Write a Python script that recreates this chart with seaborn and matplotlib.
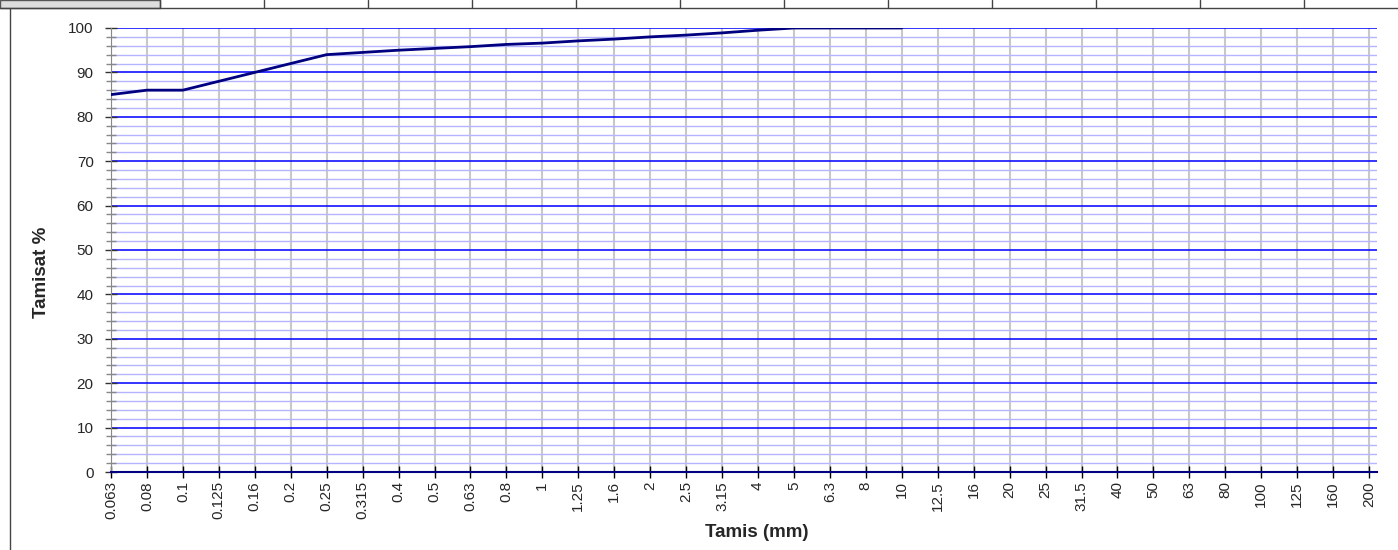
import numpy as np
import pandas as pd
import matplotlib
matplotlib.use('Agg')
import matplotlib.pyplot as plt
from matplotlib.lines import Line2D
from matplotlib.patches import Rectangle
import seaborn as sns

sieves = ['0.063', '0.08', '0.1', '0.125', '0.16', '0.2', '0.25', '0.315', '0.4', '0.5',
          '0.63', '0.8', '1', '1.25', '1.6', '2', '2.5', '3.15', '4', '5',
          '6.3', '8', '10', '12.5', '16', '20', '25', '31.5', '40', '50',
          '63', '80', '100', '125', '160', '200']
passing = [85, 86, 86, 88, 90, 92, 94, 94.5, 95, 95.4,
           95.8, 96.3, 96.6, 97.1, 97.5, 98, 98.4, 98.9, 99.5, 100,
           100, 100, 100]

sns.set_style("white")
plt.rcParams['font.family'] = ['Liberation Sans', 'DejaVu Sans']

fig = plt.figure(figsize=(13.98, 5.5), dpi=100)
ax = fig.add_axes([111 / 1398, 1 - 472 / 550, (1377 - 111) / 1398, (472 - 28) / 550])

df = pd.DataFrame({'pos': range(len(passing)), 'passing': passing})
sns.lineplot(data=df, x='pos', y='passing', color='#000080', linewidth=2, ax=ax, zorder=5)

ax.set_xlim(0, len(sieves) - 1 + 0.22)
ax.set_ylim(0, 100)
ax.set_xticks(range(len(sieves)))
ax.set_xticklabels(sieves, rotation=90, fontsize=11)
ax.set_yticks(range(0, 101, 10))
ax.set_yticks(range(0, 101, 2), minor=True)
ax.tick_params(axis='y', which='major', left=True, labelsize=11, direction='inout',
               length=9, width=1, color='#333333', pad=8)
ax.tick_params(axis='y', which='minor', left=True, direction='inout', length=7, width=1, color='#888888')
ax.tick_params(axis='x', which='major', bottom=True, direction='inout', length=9, width=1,
               color='#000000', pad=2)

ax.grid(axis='y', which='minor', color='#b4b4ff', linewidth=1)
ax.grid(axis='y', which='major', color='#1010ff', linewidth=1.2)
ax.grid(axis='x', which='major', color='#c8c8c8', linewidth=1.5)
ax.set_axisbelow(True)

for s in ['top', 'right']:
    ax.spines[s].set_visible(False)
ax.spines['left'].set_color('#888888')
ax.spines['bottom'].set_color('#000080')
ax.spines['bottom'].set_linewidth(1.5)

ax.set_xlabel('Tamis (mm)', fontsize=13.5, fontweight='bold')
ax.set_ylabel('Tamisat %', fontsize=13.5, fontweight='bold')
ax.xaxis.set_label_coords((757 - 111) / 1266, -(524 - 472) / 444)
ax.yaxis.set_label_coords((50 - 111) / 1266, (472 - 272) / 444)

# spreadsheet frame around the chart
fig.add_artist(Rectangle((0, 1 - 8 / 550), 160 / 1398, 8 / 550, transform=fig.transFigure,
                         facecolor='#dddddd', edgecolor='#555555', linewidth=1))
fig.add_artist(Line2D([0, 1], [1 - 8 / 550, 1 - 8 / 550], transform=fig.transFigure, color='#444444', linewidth=1))
for xp in range(160, 1398, 104):
    fig.add_artist(Line2D([xp / 1398, xp / 1398], [1 - 8 / 550, 1], transform=fig.transFigure, color='#444444', linewidth=1))
fig.add_artist(Line2D([10 / 1398, 10 / 1398], [0, 1 - 8 / 550], transform=fig.transFigure, color='#444444', linewidth=1))

fig.savefig('out.png', dpi=100)
